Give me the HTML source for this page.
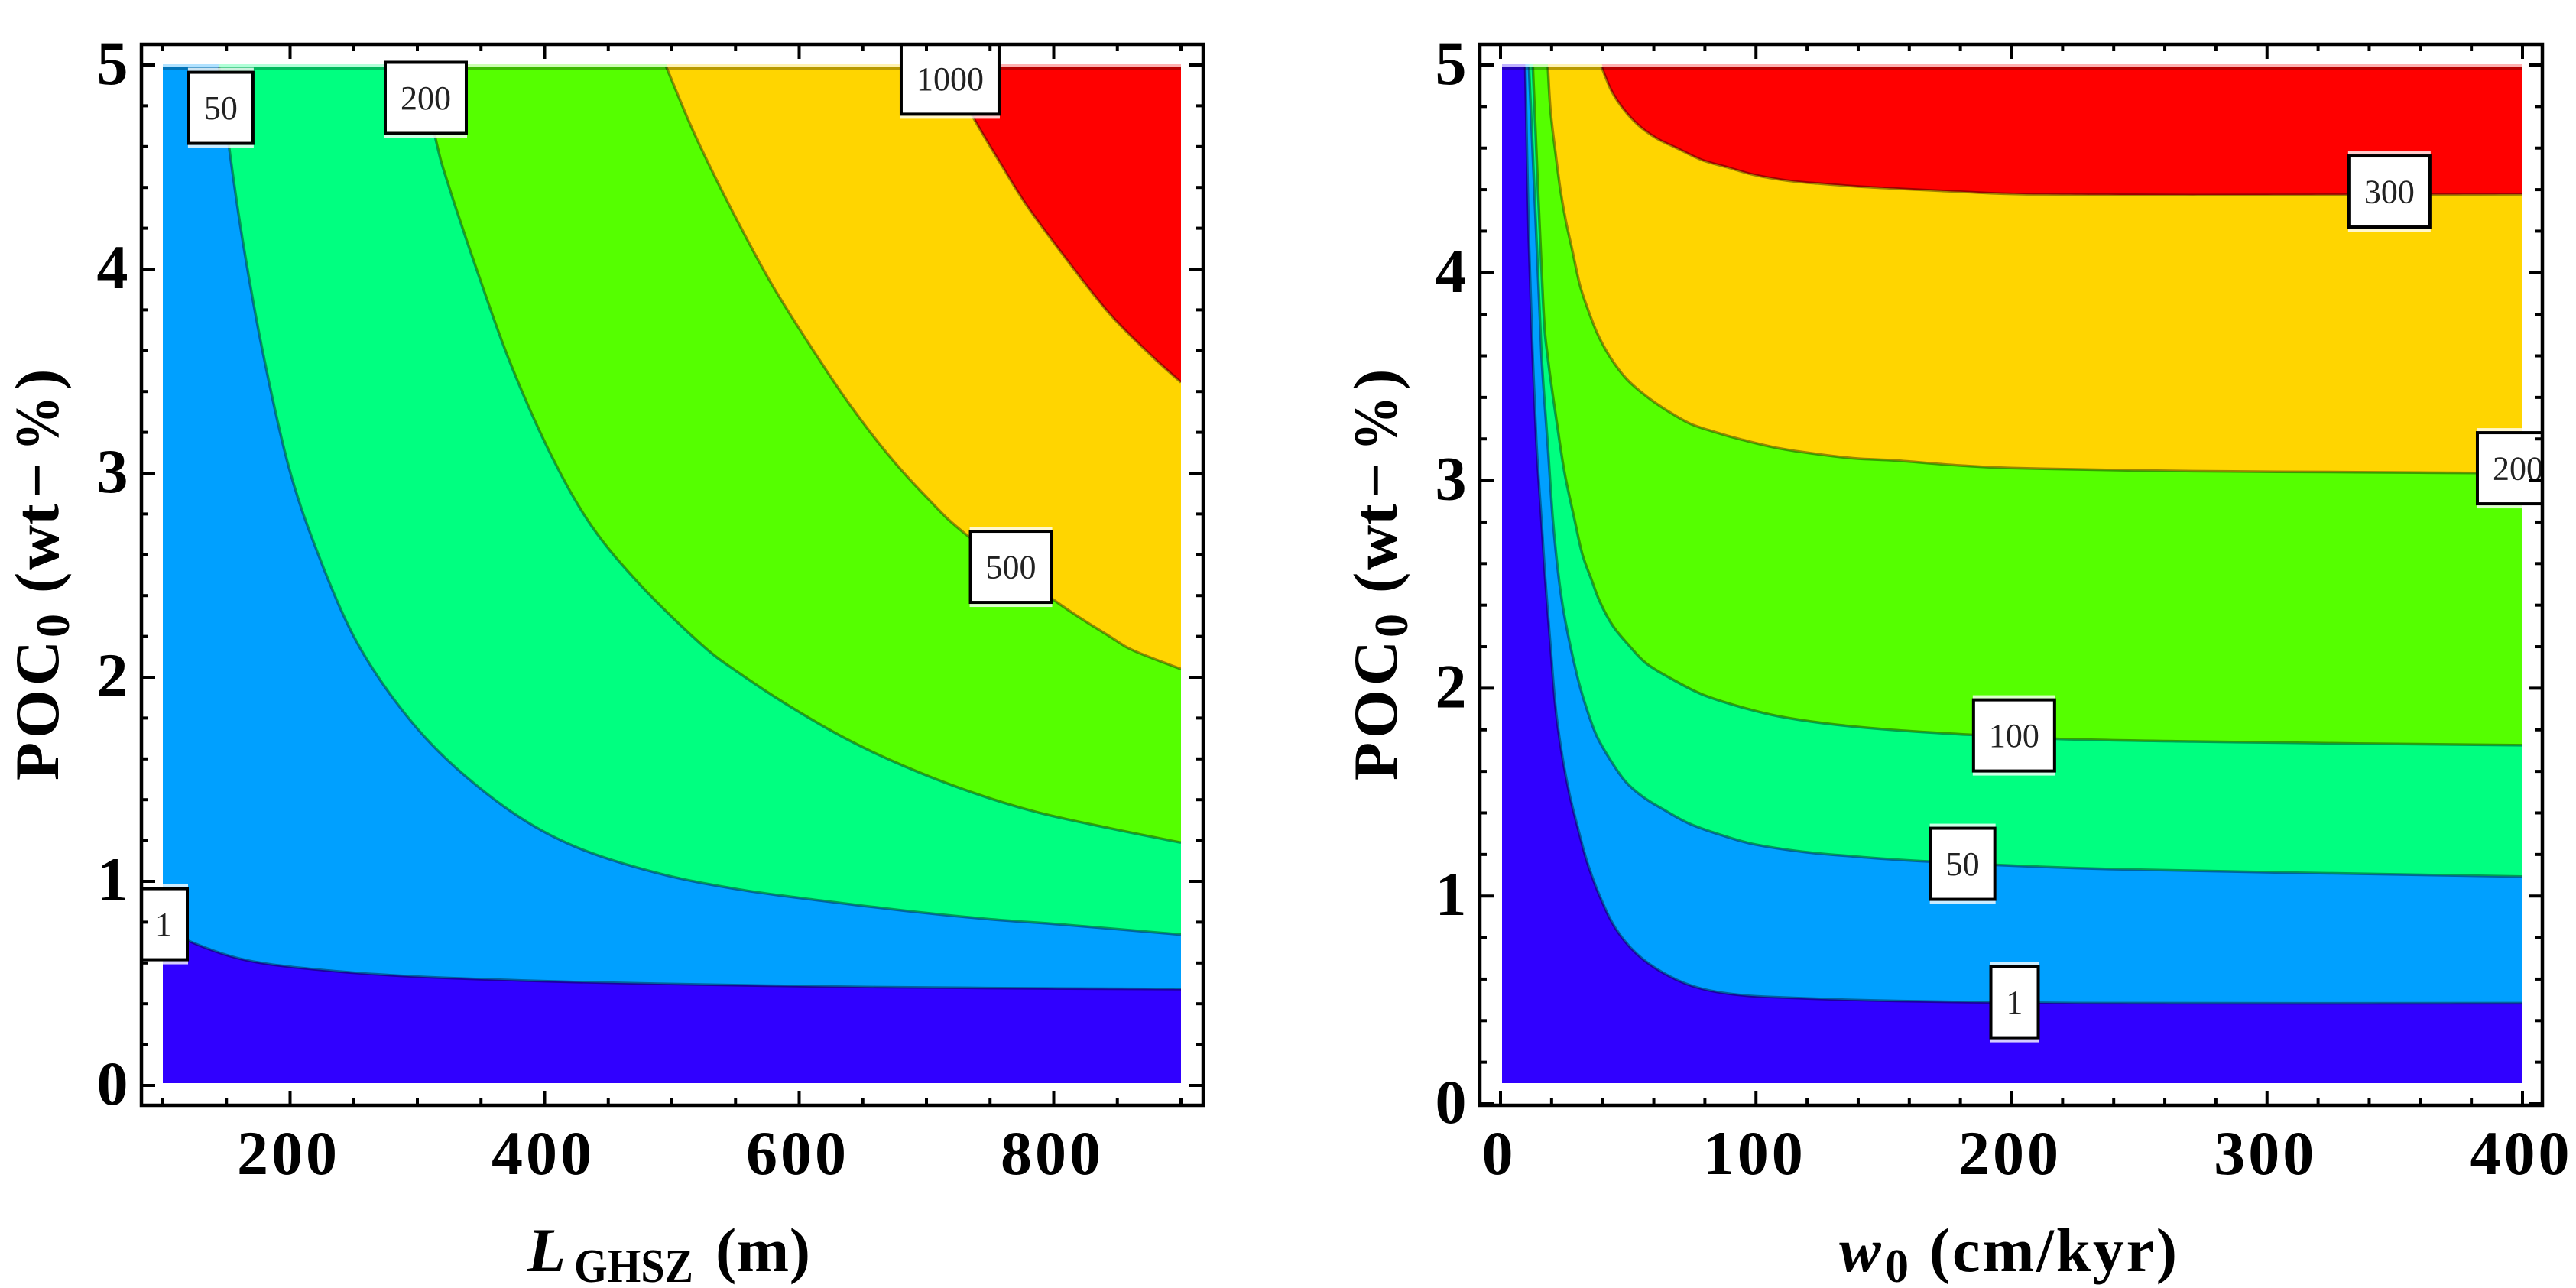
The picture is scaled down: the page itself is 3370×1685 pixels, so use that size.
<!DOCTYPE html>
<html lang="en">
<head>
<meta charset="utf-8">
<title>Contour plots of POC0 versus LGHSZ and w0</title>
<style>
html,body{margin:0;padding:0;background:#fff;width:3370px;height:1685px;overflow:hidden}
svg{display:block}
text{font-family:"Liberation Serif","DejaVu Serif",serif;fill:#000}
.tick-num{font-size:82px;font-weight:bold}
.title{font-size:82px;font-weight:bold}
.sub{font-size:62px;font-weight:bold}
</style>
</head>
<body>
<svg id="figure" xmlns="http://www.w3.org/2000/svg" width="3370" height="1685" viewBox="0 0 3370 1685">
  <rect x="0" y="0" width="3370" height="1685" fill="#fff"/>
  <defs>
    <clipPath id="left-fill-clip"><rect x="213" y="88" width="1332" height="1329"/></clipPath>
    <clipPath id="right-fill-clip"><rect x="1965" y="88" width="1336" height="1329"/></clipPath>
    <clipPath id="left-glow-clip"><rect x="213" y="84" width="1332" height="4"/></clipPath>
    <clipPath id="right-glow-clip"><rect x="1965" y="84" width="1336" height="4"/></clipPath>
    <clipPath id="left-frame-clip"><rect x="185" y="58" width="1389" height="1388"/></clipPath>
    <clipPath id="right-frame-clip"><rect x="1936" y="58" width="1390" height="1388"/></clipPath>
  </defs>

  <g id="left-panel"></g>
  <g id="right-panel"></g>

  <g>
    <text x="690" y="1663" class="title" font-style="italic">L</text>
    <text x="751" y="1677" class="sub" textLength="156" lengthAdjust="spacingAndGlyphs">GHSZ</text>
    <text x="936" y="1663" class="title" textLength="124" lengthAdjust="spacing">(m)</text>
  </g>
  <g>
    <text x="2406" y="1663" class="title" font-style="italic">w</text>
    <text x="2466" y="1677" class="sub">0</text>
    <text x="2524" y="1663" class="title" textLength="324" lengthAdjust="spacing">(cm/kyr)</text>
  </g>
  <g>
    <text transform="translate(76,1021) rotate(-90)" class="title" textLength="183" lengthAdjust="spacing">POC</text>
    <text transform="translate(90,834) rotate(-90)" class="sub">0</text>
    <text transform="translate(76,776) rotate(-90)" class="title">(</text>
    <text transform="translate(76,746) rotate(-90)" class="title">wt</text>
    <text transform="translate(76,652) rotate(-90)" class="title">−</text>
    <text transform="translate(76,590) rotate(-90)" class="title" textLength="72" lengthAdjust="spacingAndGlyphs">%</text>
    <text transform="translate(76,510) rotate(-90)" class="title">)</text>
  </g>
  <g transform="translate(1751,0)">
    <text transform="translate(76,1021) rotate(-90)" class="title" textLength="183" lengthAdjust="spacing">POC</text>
    <text transform="translate(90,834) rotate(-90)" class="sub">0</text>
    <text transform="translate(76,776) rotate(-90)" class="title">(</text>
    <text transform="translate(76,746) rotate(-90)" class="title">wt</text>
    <text transform="translate(76,652) rotate(-90)" class="title">−</text>
    <text transform="translate(76,590) rotate(-90)" class="title" textLength="72" lengthAdjust="spacingAndGlyphs">%</text>
    <text transform="translate(76,510) rotate(-90)" class="title">)</text>
  </g>
</svg>

<script>
// ---------- Tick labels ----------
const leftXTickLabels = [200, 400, 600, 800];
const rightXTickLabels = [0, 100, 200, 300, 400];
const yTickLabels = [0, 1, 2, 3, 4, 5];

// ---------- Left panel: contour levels and their curves (L in m, POC in wt-%) ----------
const leftLevels = ['1', '50', '200', '500', '1000'];
const leftCurve1L = [100, 120, 166, 231, 295, 392, 489, 618, 747, 900];
const leftCurve1Poc = [0.79, 0.709, 0.613, 0.562, 0.535, 0.512, 0.498, 0.485, 0.477, 0.472];
const leftCurve50L = [143, 152, 163, 179, 199, 221, 250, 283, 321, 373, 424, 489, 553, 618, 682, 747, 811, 900];
const leftCurve50Poc = [5.05, 4.6, 4.13, 3.58, 3.03, 2.62, 2.2, 1.88, 1.61, 1.345, 1.17, 1.04, 0.96, 0.905, 0.857, 0.816, 0.786, 0.739];
const leftCurve200L = [300, 315, 324, 347, 373, 405, 437, 476, 524, 553, 592, 637, 682, 734, 786, 844, 900];
const leftCurve200Poc = [5.05, 4.62, 4.42, 3.99, 3.54, 3.09, 2.74, 2.447, 2.156, 2.02, 1.86, 1.698, 1.566, 1.44, 1.34, 1.26, 1.19];
const leftCurve500L = [493, 515, 534, 557, 579, 605, 637, 670, 702, 731, 802, 844, 863, 900];
const leftCurve500Poc = [5.03, 4.7, 4.45, 4.17, 3.92, 3.66, 3.36, 3.09, 2.87, 2.7, 2.37, 2.2, 2.13, 2.04];
const leftCurve1000L = [712, 737, 757, 779, 811, 844, 876, 900];
const leftCurve1000Poc = [5.03, 4.74, 4.53, 4.31, 4.04, 3.78, 3.58, 3.445];
const leftLabelL = [100.6, 145.6, 306.6, 766.4, 718.6];
const leftLabelPoc = [0.79, 4.79, 4.839, 2.541, 4.933];

// ---------- Right panel: contour levels and their curves (w0 in cm/kyr, POC in wt-%) ----------
const rightLevels = ['1', '50', '100', '200', '300'];
const rightCurve1W = [9.6, 11.1, 12.6, 14.1, 16, 17.6, 19.5, 21.5, 24, 27, 30, 34, 39, 45, 53, 63, 75, 89, 109, 155, 238, 400];
const rightCurve1Poc = [5.05, 4.155, 3.592, 3.17, 2.811, 2.511, 2.21, 1.91, 1.685, 1.49, 1.34, 1.16, 0.995, 0.845, 0.725, 0.635, 0.567, 0.53, 0.512, 0.495, 0.484, 0.484];
const rightCurve50W = [11, 11.6, 14.1, 16.1, 18.5, 20.5, 23, 25.5, 30, 33.5, 37.5, 43, 49, 56, 64, 74, 86, 99, 119, 139, 155, 193, 238, 303, 400];
const rightCurve50Poc = [5.05, 4.86, 4.155, 3.592, 3.17, 2.811, 2.511, 2.316, 2.06, 1.91, 1.775, 1.655, 1.55, 1.475, 1.415, 1.348, 1.295, 1.25, 1.212, 1.19, 1.175, 1.15, 1.13, 1.114, 1.094];
const rightCurve100W = [12.5, 13.1, 16.6, 18.5, 22.5, 25.2, 29, 32, 35.5, 39, 44, 50, 57, 67, 79, 94, 109, 129, 155, 184, 219, 271, 335, 400];
const rightCurve100Poc = [5.05, 4.86, 3.874, 3.592, 3.24, 3.029, 2.811, 2.646, 2.526, 2.413, 2.3, 2.21, 2.12, 2.045, 1.97, 1.91, 1.865, 1.828, 1.798, 1.776, 1.756, 1.744, 1.734, 1.726];
const rightCurve200W = [18.3, 19.5, 21.5, 23.5, 25.5, 28, 31, 34, 38, 43, 49, 56, 64, 74, 84, 94, 109, 124, 139, 155, 180, 206, 271, 335, 400];
const rightCurve200Poc = [5.05, 4.79, 4.578, 4.395, 4.254, 4.113, 3.944, 3.831, 3.705, 3.592, 3.493, 3.416, 3.346, 3.275, 3.233, 3.198, 3.155, 3.127, 3.106, 3.096, 3.072, 3.058, 3.045, 3.04, 3.035];
const rightCurve300W = [37.8, 43, 48, 54, 61, 69, 79, 89, 99, 112, 124, 139, 155, 180, 206, 271, 400];
const rightCurve300Poc = [5.05, 4.887, 4.79, 4.71, 4.648, 4.6, 4.542, 4.507, 4.472, 4.444, 4.43, 4.416, 4.405, 4.39, 4.378, 4.374, 4.378];
const rightLabelW = [201.2, 180.9, 201, 398.2, 347.9];
const rightLabelPoc = [0.489, 1.155, 1.773, 3.059, 4.391];

// ---------- Band colours, lowest to highest ----------
const bandColors = ['#3000ff', '#00a0ff', '#00ff80', '#55ff00', '#ffd500', '#ff0000'];

const NS = 'http://www.w3.org/2000/svg';

function make(tag, attrs, parent) {
  const el = document.createElementNS(NS, tag);
  for (const key in attrs) el.setAttribute(key, attrs[key]);
  parent.appendChild(el);
  return el;
}

// Smooth open path through the given pixel points (Catmull-Rom to Bezier)
function smoothPath(pts) {
  let d = 'M' + pts[0][0].toFixed(1) + ' ' + pts[0][1].toFixed(1);
  for (let i = 0; i < pts.length - 1; i++) {
    const p0 = pts[Math.max(i - 1, 0)];
    const p1 = pts[i];
    const p2 = pts[i + 1];
    const p3 = pts[Math.min(i + 2, pts.length - 1)];
    const c1x = p1[0] + (p2[0] - p0[0]) / 6;
    const c1y = p1[1] + (p2[1] - p0[1]) / 6;
    const c2x = p2[0] - (p3[0] - p1[0]) / 6;
    const c2y = p2[1] - (p3[1] - p1[1]) / 6;
    d += 'C' + c1x.toFixed(1) + ' ' + c1y.toFixed(1) + ' ' + c2x.toFixed(1) + ' ' + c2y.toFixed(1) + ' ' + p2[0].toFixed(1) + ' ' + p2[1].toFixed(1);
  }
  return d;
}

function drawPanel(cfg) {
  const root = document.getElementById(cfg.id);
  const x = cfg.xScale;
  const y = cfg.yScale;

  // Pale glow strip just above the filled area
  const glowHolder = make('g', { 'clip-path': 'url(#' + cfg.glowClip + ')', opacity: '0.3' }, root);
  
  

  // Filled bands
  const bandHolder = make('g', { 'clip-path': 'url(#' + cfg.fillClip + ')' }, root);
  const bands = make('g', { id: cfg.id + '-bands' }, bandHolder);
  
  

  const base = make('path', {
    d: 'M' + x(cfg.xMin) + ' ' + y(cfg.yMin) + 'H' + x(cfg.xMax) + 'V' + y(5.05) + 'H' + x(cfg.xMin) + 'Z',
    fill: bandColors[0]
  }, bands);
  
  

  cfg.curves.forEach(function (curve, i) {
    const pts = curve.xs.map(function (v, j) { return [x(v), y(curve.ys[j])]; });
    const d = smoothPath(pts);
    const band = make('path', {
      d: d + 'L' + x(cfg.xMax) + ' ' + y(5.05) + 'L' + x(curve.xs[0]) + ' ' + y(5.05) + 'Z',
      fill: bandColors[i + 1]
    }, bands);
    
    
  });

  make('use', { href: '#' + cfg.id + '-bands', transform: 'translate(0,-4)' }, glowHolder);

  // Contour lines
  const lines = make('g', { 'clip-path': 'url(#' + cfg.fillClip + ')' }, root);
  
  
  cfg.curves.forEach(function (curve, i) {
    const pts = curve.xs.map(function (v, j) { return [x(v), y(curve.ys[j])]; });
    const line = make('path', {
      d: smoothPath(pts),
      fill: 'none',
      stroke: '#000',
      'stroke-opacity': '0.38',
      'stroke-width': '3.5'
    }, lines);
    
    
  });
  const topEdge = make('line', {
    x1: x(cfg.xMin), x2: x(cfg.xMax), y1: 89.5, y2: 89.5,
    stroke: '#000', 'stroke-opacity': '0.28', 'stroke-width': '3'
  }, lines);
  
  

  // Contour label boxes
  const labels = make('g', { 'clip-path': 'url(#' + cfg.frameClip + ')' }, root);
  
  
  cfg.levels.forEach(function (level, i) {
    const cx = x(cfg.labelXs[i]);
    const cy = y(cfg.labelYs[i]);
    const w = 40 + 22 * level.length;
    const h = 93;
    const g = make('g', {}, labels);
    
    
    make('rect', { x: cx - w / 2 - 1, y: cy - h / 2 - 6, width: w + 2, height: h + 12, fill: '#fff', 'fill-opacity': '0.8' }, g);
    make('rect', { x: cx - w / 2, y: cy - h / 2, width: w, height: h, fill: '#fff', stroke: '#000', 'stroke-width': '4' }, g);
    const t = make('text', { x: cx, y: cy + 15, 'text-anchor': 'middle', 'font-size': '44', style: 'fill:#222' }, g);
    t.textContent = level;
  });

  // Frame
  const frame = make('rect', {
    x: cfg.frame[0], y: cfg.frame[1], width: cfg.frame[2] - cfg.frame[0], height: cfg.frame[3] - cfg.frame[1],
    fill: 'none', stroke: '#000', 'stroke-width': '4.5'
  }, root);
  
  

  // Ticks
  const ticks = make('g', { stroke: '#000', 'stroke-width': '4' }, root);
  
  
  const top = cfg.frame[1], bottom = cfg.frame[3], lft = cfg.frame[0], rgt = cfg.frame[2];
  for (let k = 0; ; k++) {
    const v = cfg.xMinTick + k * cfg.xMinorStep;
    if (v > cfg.xMax) break;
    const len = cfg.xTicks.indexOf(v) >= 0 ? 19 : 9;
    make('line', { x1: x(v), x2: x(v), y1: bottom, y2: bottom - len }, ticks);
    make('line', { x1: x(v), x2: x(v), y1: top, y2: top + len }, ticks);
  }
  for (let k = 0; k <= 25; k++) {
    const v = k / 5;
    const py = y(v);
    if (py > bottom - 2) continue;
    const len = k % 5 === 0 ? 18 : 9;
    make('line', { x1: lft, x2: lft + len, y1: py, y2: py }, ticks);
    make('line', { x1: rgt, x2: rgt - len, y1: py, y2: py }, ticks);
  }

  // Tick labels
  const xLabels = make('g', {}, root);
  
  
  cfg.xTicks.forEach(function (v) {
    const t = make('text', { x: x(v) - 2, y: 1536, 'text-anchor': 'middle', class: 'tick-num', 'letter-spacing': '4' }, xLabels);
    t.textContent = v;
  });
  const yLabels = make('g', {}, root);
  
  
  yTickLabels.forEach(function (v) {
    const t = make('text', { x: lft - 38, y: y(v) + 25, 'text-anchor': 'middle', class: 'tick-num' }, yLabels);
    t.textContent = v;
  });
}

drawPanel({
  id: 'left-panel',
  fillClip: 'left-fill-clip',
  glowClip: 'left-glow-clip',
  frameClip: 'left-frame-clip',
  frame: [185, 58, 1574, 1446],
  xScale: function (v) { return 213 + (v - 100) * 1.665; },
  yScale: function (v) { return 1420 - 267 * v; },
  xMin: 100, xMax: 900, yMin: 0, xMinTick: 100, xMinorStep: 50,
  xTicks: leftXTickLabels,
  levels: leftLevels,
  labelXs: leftLabelL,
  labelYs: leftLabelPoc,
  curves: [
    { xs: leftCurve1L, ys: leftCurve1Poc },
    { xs: leftCurve50L, ys: leftCurve50Poc },
    { xs: leftCurve200L, ys: leftCurve200Poc },
    { xs: leftCurve500L, ys: leftCurve500Poc },
    { xs: leftCurve1000L, ys: leftCurve1000Poc }
  ]
});

drawPanel({
  id: 'right-panel',
  fillClip: 'right-fill-clip',
  glowClip: 'right-glow-clip',
  frameClip: 'right-frame-clip',
  frame: [1936, 58, 3326, 1446],
  xScale: function (v) { return 1963 + v * 3.3425; },
  yScale: function (v) { return 1444 - 271.8 * v; },
  xMin: 0, xMax: 400, yMin: 0, xMinTick: 0, xMinorStep: 20,
  xTicks: rightXTickLabels,
  levels: rightLevels,
  labelXs: rightLabelW,
  labelYs: rightLabelPoc,
  curves: [
    { xs: rightCurve1W, ys: rightCurve1Poc },
    { xs: rightCurve50W, ys: rightCurve50Poc },
    { xs: rightCurve100W, ys: rightCurve100Poc },
    { xs: rightCurve200W, ys: rightCurve200Poc },
    { xs: rightCurve300W, ys: rightCurve300Poc }
  ]
});
</script>
</body>
</html>
